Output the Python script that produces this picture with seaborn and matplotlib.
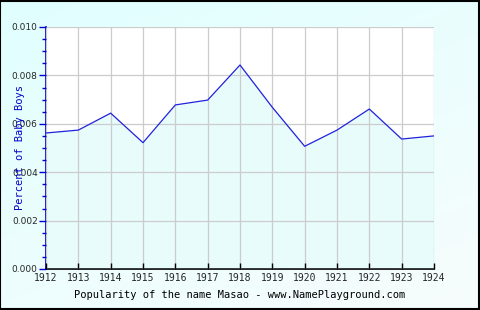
import numpy as np
import pandas as pd
import seaborn as sns
import matplotlib
matplotlib.use("Agg")
import matplotlib.pyplot as plt
from matplotlib.ticker import MultipleLocator, FormatStrFormatter

years = [1912, 1913, 1914, 1915, 1916, 1917, 1918, 1919, 1920, 1921, 1922, 1923, 1924]
percent = [0.00562, 0.00574, 0.00644, 0.00522, 0.00678, 0.00698, 0.00843, 0.00668,
           0.00507, 0.00574, 0.00661, 0.00537, 0.00550]
x_label = "Popularity of the name Masao - www.NamePlayground.com"
y_label = "Percent of Baby Boys"

df = pd.DataFrame({"year": years, "percent": percent})

sns.set_style("white")
plt.rcParams['font.family'] = ['DejaVu Sans Mono', 'DejaVu Sans']

fig = plt.figure(figsize=(4.8, 3.1), dpi=100)
# background gradient
bg = fig.add_axes([0, 0, 1, 1], zorder=-10)
grad = np.linspace(0, 1, 256)
gx, gy = np.meshgrid(grad, grad)
g = (gx * 0.4 + gy * 0.6)
c0 = np.array([0.88, 1.0, 1.0])
c1 = np.array([0.97, 0.99, 0.99])
img = c0[None, None, :] * (1 - g[..., None]) + c1[None, None, :] * g[..., None]
bg.imshow(img, aspect='auto', extent=[0, 1, 0, 1], origin='upper')
bg.set_axis_off()
fig.patches.append(plt.Rectangle((0.001, 0.002), 0.997, 0.995, transform=fig.transFigure,
                                 fill=False, edgecolor='black', linewidth=1.5))

ax = fig.add_axes([46/480, 41/310, 388/480, 242/310])
ax.set_facecolor('white')
ax.fill_between(df["year"], df["percent"], 0, color='#e8fcfc', zorder=1)
sns.lineplot(data=df, x="year", y="percent", ax=ax, color='#2222dd', linewidth=0.9, zorder=3)

ax.set_xlim(1912, 1924)
ax.set_ylim(0, 0.010)
ax.set_xticks(years)
ax.set_xticklabels([str(y) for y in years], fontsize=7)
ax.yaxis.set_major_locator(MultipleLocator(0.002))
ax.yaxis.set_minor_locator(MultipleLocator(0.0005))
ax.yaxis.set_major_formatter(FormatStrFormatter('%.3f'))
for lab in ax.get_yticklabels():
    lab.set_fontfamily('DejaVu Sans')
    lab.set_fontsize(6.5)
ax.grid(True, which='major', color='#cccccc', linewidth=0.9, zorder=2)
ax.set_axisbelow(False)
for l in ax.get_xgridlines() + ax.get_ygridlines():
    l.set_zorder(2)

for s in ['top', 'right']:
    ax.spines[s].set_visible(False)
ax.spines['left'].set_color('#0000cc')
ax.spines['left'].set_linewidth(1.2)
ax.spines['bottom'].set_color('black')
ax.spines['bottom'].set_linewidth(1.2)
ax.tick_params(axis='y', which='both', left=True)
ax.tick_params(axis='x', which='major', bottom=True)
ax.tick_params(axis='y', which='major', direction='out', length=5, color='#0000cc', width=1, pad=1)
ax.tick_params(axis='y', which='minor', direction='out', length=3, color='#0000cc', width=1)
ax.tick_params(axis='x', which='major', direction='in', length=4, color='black', width=1, pad=3)

ax.set_xlabel(x_label, fontsize=7.5, color='black', labelpad=5)
ax.set_ylabel(y_label, fontsize=7.5, color='#0000cc')
ax.yaxis.set_label_coords(-21/388, 0.5)

fig.savefig("out.png", dpi=100)
